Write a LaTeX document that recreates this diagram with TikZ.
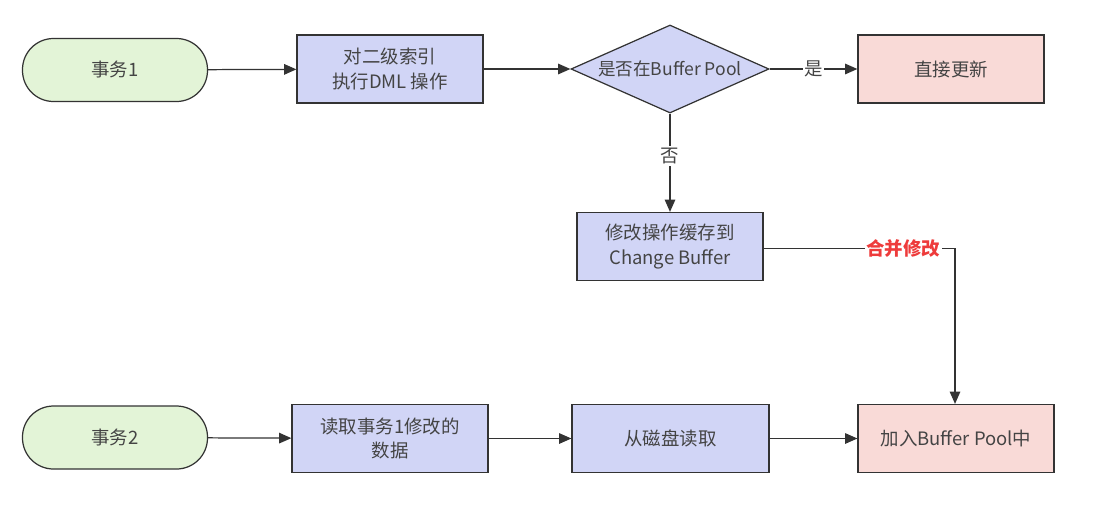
\documentclass[tikz,border=0pt]{standalone}
\usepackage{fontspec}
\setmainfont{Noto Sans CJK SC}
\usetikzlibrary{shapes.geometric,arrows.meta}
\definecolor{startfill}{HTML}{E3F4D7}
\definecolor{stepfill}{HTML}{D1D5F6}
\definecolor{endfill}{HTML}{F9DAD7}
\definecolor{edgegray}{HTML}{333333}
\definecolor{textgray}{HTML}{444444}
\definecolor{mergered}{HTML}{EE3B3B}
\tikzset{
  every node/.style={font=\fontsize{10.5}{14}\selectfont, text=textgray},
  terminal/.style={draw=edgegray, line width=0.7pt, fill=startfill, rounded corners=0.62cm,
    minimum width=3.7cm, minimum height=1.26cm},
  stepbox/.style={draw=edgegray, line width=0.7pt, fill=stepfill, align=center,
    minimum width=3.72cm, minimum height=1.36cm},
  donebox/.style={stepbox, fill=endfill},
  decision/.style={draw=edgegray, line width=0.7pt, fill=stepfill, diamond, aspect=2.25,
    minimum width=3.96cm, minimum height=1.76cm, inner sep=0pt,
    font=\fontsize{10}{13}\selectfont},
  flow/.style={draw=edgegray, line width=0.7pt, -{Triangle[length=7pt,width=6pt]}},
  cond/.style={fill=white, inner sep=1pt}
}
\begin{document}
\begin{tikzpicture}
  \useasboundingbox (0,0) rectangle (22.26,-10.5);
  \draw
    (2.30,-1.40) node[terminal] (t1){事务1}
    (7.80,-1.38) node[stepbox] (dml){对二级索引\\执行DML 操作}
    (13.40,-1.38) node[decision] (inpool){是否在Buffer Pool}
    (19.02,-1.38) node[donebox] (direct){直接更新}
    (13.40,-4.93) node[stepbox] (cbuf){修改操作缓存到\\Change Buffer}
    (2.30,-8.75) node[terminal] (t2){事务2}
    (7.80,-8.77) node[stepbox, minimum width=3.92cm] (read){读取事务1修改的\\数据}
    (13.41,-8.77) node[stepbox, minimum width=3.94cm] (disk){从磁盘读取}
    (19.12,-8.77) node[donebox, minimum width=3.92cm] (addpool){加入Buffer Pool中};
  \coordinate (bend) at (19.10,-4.97);
  \begin{scope}[flow]
    \draw (t1) to (dml);
    \draw (dml) to (inpool);
    \draw (inpool) to node[cond]{是} (direct);
    \draw (inpool) to node[cond, pos=0.43]{否} (cbuf);
    \draw (cbuf.east |- bend) -- node[cond, pos=0.73, text=mergered, font=\fontsize{10.5}{14}\selectfont\bfseries]{合并修改} (bend) -- (addpool.north -| bend);
    \draw (t2) to (read);
    \draw (read) to (disk);
    \draw (disk) to (addpool);
  \end{scope}
\end{tikzpicture}
\end{document}
